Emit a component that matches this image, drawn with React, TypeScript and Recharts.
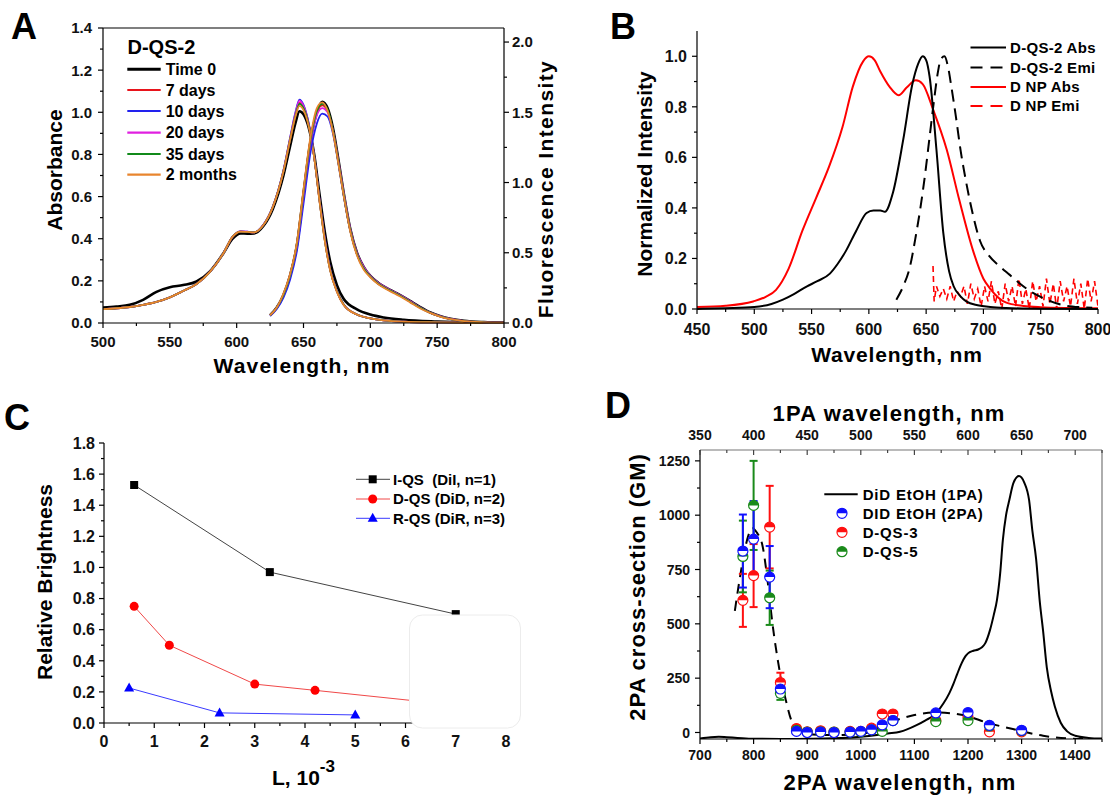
import React from "react";
import { LineChart, ComposedChart, Line, Scatter, ErrorBar, XAxis, YAxis, ReferenceLine } from "recharts";

const FONT = '"Liberation Sans", Arial, Helvetica, sans-serif';

// ---------- A: D-QS-2 stability ----------
const ABS_WL = [500, 510, 520, 530, 540, 550, 560, 570, 580, 590, 597, 603, 608, 613, 620, 627, 635, 640, 644, 647, 650, 654, 658, 662, 666, 670, 675, 680, 690, 700, 710, 725, 750, 775, 800];
const ABS_T0 = [0.073, 0.078, 0.086, 0.11, 0.148, 0.17, 0.18, 0.197, 0.245, 0.33, 0.4, 0.425, 0.424, 0.425, 0.46, 0.54, 0.7, 0.84, 0.95, 1.005, 0.99, 0.925, 0.8, 0.61, 0.43, 0.29, 0.18, 0.115, 0.065, 0.04, 0.026, 0.015, 0.007, 0.003, 0.002];
const ABS_7D = [0.066, 0.07, 0.076, 0.086, 0.1, 0.122, 0.152, 0.185, 0.243, 0.33, 0.41, 0.434, 0.432, 0.43, 0.465, 0.55, 0.72, 0.87, 0.99, 1.045, 1.025, 0.94, 0.79, 0.58, 0.39, 0.25, 0.15, 0.088, 0.04, 0.022, 0.012, 0.006, 0.003, 0.001, 0];
const ABS_10D = [0.066, 0.07, 0.076, 0.086, 0.1, 0.122, 0.152, 0.185, 0.243, 0.33, 0.41, 0.435, 0.433, 0.43, 0.466, 0.552, 0.725, 0.88, 1.0, 1.06, 1.035, 0.945, 0.79, 0.585, 0.4, 0.255, 0.152, 0.088, 0.04, 0.022, 0.012, 0.006, 0.003, 0.001, 0];
const ABS_20D = [0.066, 0.07, 0.076, 0.086, 0.1, 0.122, 0.152, 0.185, 0.243, 0.33, 0.41, 0.435, 0.433, 0.43, 0.466, 0.551, 0.723, 0.878, 0.995, 1.055, 1.03, 0.943, 0.79, 0.583, 0.395, 0.252, 0.15, 0.088, 0.04, 0.022, 0.012, 0.006, 0.003, 0.001, 0];
const ABS_35D = [0.066, 0.07, 0.076, 0.086, 0.1, 0.122, 0.152, 0.185, 0.243, 0.33, 0.41, 0.434, 0.432, 0.43, 0.465, 0.55, 0.72, 0.872, 0.985, 1.04, 1.02, 0.938, 0.788, 0.58, 0.39, 0.25, 0.15, 0.088, 0.04, 0.022, 0.012, 0.006, 0.003, 0.001, 0];
const ABS_2M = [0.066, 0.07, 0.076, 0.086, 0.1, 0.122, 0.152, 0.185, 0.243, 0.33, 0.41, 0.434, 0.432, 0.43, 0.465, 0.55, 0.72, 0.87, 0.98, 1.03, 1.01, 0.93, 0.785, 0.578, 0.388, 0.248, 0.148, 0.086, 0.04, 0.022, 0.012, 0.006, 0.003, 0.001, 0];

const EMI_WL = [625, 630, 635, 640, 645, 650, 655, 660, 664, 668, 672, 676, 680, 685, 690, 695, 700, 706, 712, 718, 724, 730, 737, 745, 752, 760, 770, 785, 800];
const EMI_T0 = [0.055, 0.11, 0.2, 0.34, 0.55, 0.92, 1.28, 1.5, 1.575, 1.53, 1.39, 1.17, 0.93, 0.67, 0.5, 0.4, 0.335, 0.285, 0.25, 0.22, 0.19, 0.155, 0.115, 0.075, 0.05, 0.03, 0.015, 0.006, 0.003];
const EMI_7D = [0.055, 0.11, 0.2, 0.34, 0.56, 0.93, 1.29, 1.5, 1.55, 1.51, 1.37, 1.15, 0.92, 0.66, 0.49, 0.39, 0.33, 0.28, 0.245, 0.215, 0.185, 0.15, 0.11, 0.072, 0.048, 0.028, 0.014, 0.005, 0.002];
const EMI_10D = [0.05, 0.1, 0.18, 0.31, 0.51, 0.85, 1.2, 1.42, 1.49, 1.47, 1.35, 1.14, 0.91, 0.66, 0.49, 0.39, 0.33, 0.28, 0.245, 0.215, 0.185, 0.15, 0.11, 0.072, 0.048, 0.028, 0.014, 0.005, 0.002];
const EMI_20D = [0.055, 0.11, 0.2, 0.34, 0.55, 0.91, 1.27, 1.48, 1.53, 1.5, 1.37, 1.16, 0.93, 0.67, 0.5, 0.4, 0.335, 0.285, 0.25, 0.22, 0.19, 0.155, 0.112, 0.073, 0.049, 0.029, 0.014, 0.005, 0.002];
const EMI_35D = [0.055, 0.11, 0.2, 0.34, 0.56, 0.93, 1.29, 1.51, 1.56, 1.52, 1.37, 1.15, 0.92, 0.66, 0.49, 0.39, 0.33, 0.28, 0.245, 0.215, 0.185, 0.15, 0.11, 0.072, 0.048, 0.028, 0.014, 0.005, 0.002];
const EMI_2M = [0.055, 0.11, 0.21, 0.35, 0.57, 0.95, 1.31, 1.53, 1.57, 1.51, 1.36, 1.14, 0.91, 0.65, 0.48, 0.38, 0.325, 0.275, 0.24, 0.21, 0.18, 0.145, 0.105, 0.07, 0.046, 0.027, 0.013, 0.005, 0.002];

const A_NAMES = ["Time 0", "7 days", "10 days", "20 days", "35 days", "2 months"];
const A_COLORS = ["#000000", "#e8141c", "#2222ee", "#e020e0", "#118a1a", "#e8852e"];
const A_X_TICKS = [500, 525, 550, 575, 600, 625, 650, 675, 700, 725, 750, 775, 800];
const A_Y_TICKS = [0, 0.1, 0.2, 0.3, 0.4, 0.5, 0.6, 0.7, 0.8, 0.9, 1.0, 1.1, 1.2, 1.3, 1.4];
const A_Y2_TICKS = [0, 0.25, 0.5, 0.75, 1.0, 1.25, 1.5, 1.75, 2.0];

// ---------- B: normalized spectra ----------
const QS_ABS_WL = [450, 475, 500, 515, 525, 535, 546, 555, 566, 573, 580, 589, 598, 604, 610, 614, 621, 630, 638, 643, 647, 650, 653, 659, 665, 670, 674, 680, 685, 695, 706, 720, 750, 800];
const QS_ABS = [0, 0.003, 0.008, 0.02, 0.037, 0.06, 0.09, 0.11, 0.14, 0.18, 0.23, 0.31, 0.38, 0.39, 0.39, 0.385, 0.46, 0.67, 0.89, 0.97, 1.0, 0.985, 0.92, 0.63, 0.3, 0.15, 0.09, 0.05, 0.03, 0.015, 0.008, 0.004, 0.001, 0];
const QS_EMI_WL = [624, 630, 636, 641, 645, 649, 653, 657, 660, 663, 666, 669, 672, 676, 680, 685, 691, 697, 705, 714, 723, 732, 741, 749, 760, 770, 785, 795];
const QS_EMI = [0.037, 0.09, 0.17, 0.29, 0.4, 0.53, 0.68, 0.83, 0.93, 0.99, 1.0, 0.96, 0.88, 0.76, 0.63, 0.5, 0.37, 0.27, 0.21, 0.17, 0.135, 0.1, 0.07, 0.05, 0.028, 0.015, 0.007, 0.005];
const NP_ABS_WL = [450, 475, 499, 510, 519, 530, 542, 554, 565, 577, 586, 595, 600, 605, 610, 618, 626, 633, 641, 647, 656, 668, 679, 691, 700, 706, 720, 735, 750, 775, 800];
const NP_ABS = [0.008, 0.013, 0.03, 0.048, 0.076, 0.16, 0.31, 0.44, 0.56, 0.72, 0.88, 0.98, 1.0, 0.985, 0.94, 0.88, 0.846, 0.876, 0.905, 0.89, 0.79, 0.63, 0.43, 0.23, 0.12, 0.08, 0.025, 0.012, 0.007, 0.004, 0.003];
const NP_EMI_WL = [656, 657, 659, 662, 665, 668, 671, 674, 677, 680, 683, 686, 689, 692, 695, 698, 701, 704, 707, 710, 713, 716, 719, 722, 725, 728, 731, 734, 737, 740, 743, 746, 749, 752, 755, 758, 761, 764, 767, 770, 773, 776, 779, 782, 785, 788, 791, 794, 797, 800];
const NP_EMI = [0.17, 0.03, 0.09, 0.05, 0.08, 0.04, 0.09, 0.03, 0.07, 0.05, 0.09, 0.02, 0.1, 0.04, 0.08, 0.01, 0.09, 0.03, 0.11, 0.02, 0.07, 0.0, 0.1, 0.03, 0.09, 0.01, 0.12, 0.02, 0.08, 0.0, 0.11, 0.03, 0.09, 0.01, 0.12, 0.02, 0.1, 0.0, 0.11, 0.03, 0.09, 0.01, 0.12, 0.02, 0.1, 0.0, 0.12, 0.03, 0.11, 0.01];
const B_X_TICKS = [450, 475, 500, 525, 550, 575, 600, 625, 650, 675, 700, 725, 750, 775, 800];
const B_Y_TICKS = [0, 0.1, 0.2, 0.3, 0.4, 0.5, 0.6, 0.7, 0.8, 0.9, 1.0];

// ---------- C: relative brightness ----------
const IQS_L = [0.6, 3.3, 7.0];
const IQS_B = [1.53, 0.97, 0.7];
const DQS_L = [0.6, 1.3, 3.0, 4.2, 7.0];
const DQS_B = [0.75, 0.5, 0.25, 0.21, 0.115];
const RQS_L = [0.5, 2.3, 5.0];
const RQS_B = [0.225, 0.065, 0.052];
const C_X_TICKS = [0, 0.5, 1, 1.5, 2, 2.5, 3, 3.5, 4, 4.5, 5, 5.5, 6, 6.5, 7, 7.5, 8];
const C_Y_TICKS = [0, 0.1, 0.2, 0.3, 0.4, 0.5, 0.6, 0.7, 0.8, 0.9, 1.0, 1.1, 1.2, 1.3, 1.4, 1.5, 1.6, 1.7, 1.8];

// ---------- D: 2PA cross-section ----------
// DiD EtOH one-photon absorption, on the 1PA (top) wavelength axis
const PA1_WL = [350, 360, 367.5, 375, 385, 400, 425, 450, 475, 500, 515, 525, 536.5, 552, 560, 570, 577, 582.5, 586.5, 590, 594, 597.5, 600, 605, 609.5, 613, 616, 620.5, 624, 627, 630, 632.5, 635.5, 638.5, 642.5, 647.5, 652.5, 657, 660, 663.5, 667, 670, 673.5, 677.5, 681, 686.5, 692.5, 700, 712.5, 725];
const PA1_GM = [-28, -22, -20, -22, -25, -29, -30, -29, -27, -20, -12, -5, 3, 34, 55, 87, 133, 180, 225, 270, 318, 350, 364, 376, 382, 392, 410, 471, 540, 609, 732, 885, 1000, 1069, 1150, 1180, 1150, 1069, 930, 800, 600, 470, 300, 190, 120, 45, 5, -15, -25, -28];
const GUIDE_WL = [765, 773, 782, 790, 798, 806, 817, 826, 835, 846, 860, 872, 885, 900, 940, 1000, 1040, 1070, 1100, 1140, 1190, 1240, 1290, 1340, 1390, 1420];
const GUIDE_GM = [560, 690, 820, 905, 940, 920, 855, 700, 505, 320, 150, 45, 5, -8, -12, -8, 30, 60, 80, 92, 80, 42, 12, -15, -28, -30];
const TPA_WL = [780, 800, 830, 850, 880, 900, 925, 950, 980, 1000, 1020, 1040, 1060, 1140, 1200, 1240, 1300];
const DID_GM = [835, 890, 715, 200, 5, 0, 2, 0, 2, 5, 12, 35, 55, 90, 92, 33, 10];
const DID_ERR = [168, 175, 143, 35, 0, 0, 0, 0, 0, 0, 0, 0, 0, 0, 0, 0, 0];
const QS3_GM = [608, 722, 945, 230, 18, 3, 8, 2, 5, 5, 20, 85, 85, 55, 70, 3, 3];
const QS3_ERR = [122, 145, 190, 45, 0, 0, 0, 0, 0, 0, 0, 0, 0, 0, 0, 0, 0];
const QS5_GM = [810, 1045, 620, 180, 10, 2, 3, 2, 2, 3, 12, 5, 55, 50, 55, 30, 8];
const QS5_ERR = [165, 205, 125, 30, 0, 0, 0, 0, 0, 0, 0, 0, 0, 0, 0, 0, 0];
const D_X_TICKS = [700, 750, 800, 850, 900, 950, 1000, 1050, 1100, 1150, 1200, 1250, 1300, 1350, 1400, 1450];
const D_TOP_TICKS = [350, 375, 400, 425, 450, 475, 500, 525, 550, 575, 600, 625, 650, 675, 700, 725];
const D_Y_TICKS = [0, 125, 250, 375, 500, 625, 750, 875, 1000, 1125, 1250];

const pts = (xs: number[], ys: number[]) => xs.map((x, i) => ({ x, y: ys[i] }));
const errPts = (xs: number[], ys: number[], es: number[]) => xs.map((x, i) => ({ x, y: ys[i], e: es[i] }));
const onStep = (step: number) => (v: number) => Math.abs(v / step - Math.round(v / step)) < 1e-6;

type Side = "bottom" | "top" | "left" | "right";
function tickFn(side: Side, isMajor: (v: number) => boolean, label: (v: number) => string, fontSize: number, offset: number) {
  return (p: any) => {
    const v = p.payload.value;
    const big = isMajor(v);
    const len = big ? 5 : 3;
    const { x, y } = p;
    const t = { fontFamily: FONT, fontSize, fontWeight: 700, fill: "#111" };
    let ln: any = null;
    let tx: any = null;
    if (side === "bottom") {
      ln = <line x1={x} x2={x} y1={y} y2={y + len} stroke="#000" strokeWidth={1.2} />;
      if (big) tx = <text x={x} y={y + offset} textAnchor="middle" {...t}>{label(v)}</text>;
    } else if (side === "top") {
      ln = <line x1={x} x2={x} y1={y} y2={y + len} stroke="#444" strokeWidth={1.2} />;
      if (big) tx = <text x={x} y={y - offset} textAnchor="middle" {...t}>{label(v)}</text>;
    } else if (side === "left") {
      ln = <line x1={x} x2={x - len} y1={y} y2={y} stroke="#000" strokeWidth={1.2} />;
      if (big) tx = <text x={x - offset} y={y} dy="0.36em" textAnchor="end" {...t}>{label(v)}</text>;
    } else {
      ln = <line x1={x} x2={x + len} y1={y} y2={y} stroke="#000" strokeWidth={1.2} />;
      if (big) tx = <text x={x + offset} y={y} dy="0.36em" textAnchor="start" {...t}>{label(v)}</text>;
    }
    return <g>{ln}{tx}</g>;
  };
}

const axisLine = { stroke: "#000", strokeWidth: 1.2 };
const f1 = (v: number) => v.toFixed(1);
const f0 = (v: number) => String(Math.round(v));

function PanelA() {
  const abs = [ABS_T0, ABS_7D, ABS_10D, ABS_20D, ABS_35D, ABS_2M];
  const emi = [EMI_T0, EMI_7D, EMI_10D, EMI_20D, EMI_35D, EMI_2M];
  return (
    <div style={{ position: "absolute", left: 0, top: 0 }}>
      <LineChart width={560} height={380} margin={{ top: 28, right: 0, bottom: 0, left: 0 }}>
        <XAxis type="number" dataKey="x" domain={[500, 800]} ticks={A_X_TICKS} interval={0} height={57} tickSize={0} tickMargin={0} tickLine={false} axisLine={axisLine} tick={tickFn("bottom", onStep(50), f0, 15, 24)} allowDataOverflow />
        <YAxis yAxisId="abs" type="number" domain={[0, 1.4]} ticks={A_Y_TICKS} interval={0} width={103} tickSize={0} tickMargin={0} tickLine={false} axisLine={axisLine} tick={tickFn("left", onStep(0.2), f1, 15, 11)} />
        <YAxis yAxisId="fl" orientation="right" type="number" domain={[0, 2.1]} ticks={A_Y2_TICKS} interval={0} width={56} tickSize={0} tickMargin={0} tickLine={false} axisLine={axisLine} tick={tickFn("right", onStep(0.5), f1, 15, 8)} />
        <ReferenceLine yAxisId="abs" y={1.4} stroke="#000" strokeWidth={1.2} />
        {abs.map((ys, i) => (
          <Line key={"abs" + i} yAxisId="abs" data={pts(ABS_WL, ys)} dataKey="y" type="monotone" stroke={A_COLORS[i]} strokeWidth={i === 0 ? 2.6 : 1.8} dot={false} isAnimationActive={false} />
        ))}
        {emi.map((ys, i) => (
          <Line key={"emi" + i} yAxisId="fl" data={pts(EMI_WL, ys)} dataKey="y" type="monotone" stroke={A_COLORS[i]} strokeWidth={i === 0 ? 2.6 : 1.8} dot={false} isAnimationActive={false} />
        ))}
      </LineChart>
    </div>
  );
}

function PanelB() {
  return (
    <div style={{ position: "absolute", left: 590, top: 0 }}>
      <LineChart width={520} height={370} margin={{ top: 31, right: 12, bottom: 0, left: 0 }}>
        <XAxis type="number" dataKey="x" domain={[450, 800]} ticks={B_X_TICKS} interval={0} height={61} tickSize={0} tickMargin={0} tickLine={false} axisLine={axisLine} tick={tickFn("bottom", onStep(50), f0, 16, 26)} allowDataOverflow />
        <YAxis type="number" domain={[0, 1.1]} ticks={B_Y_TICKS} interval={0} width={107} tickSize={0} tickMargin={0} tickLine={false} axisLine={axisLine} tick={tickFn("left", onStep(0.2), f1, 16, 10)} />
        <Line data={pts(NP_ABS_WL, NP_ABS)} dataKey="y" type="monotone" stroke="#ff0000" strokeWidth={2} dot={false} isAnimationActive={false} />
        <Line data={pts(NP_EMI_WL, NP_EMI)} dataKey="y" type="linear" stroke="#ff0000" strokeWidth={1.6} strokeDasharray="6 4" dot={false} isAnimationActive={false} />
        <Line data={pts(QS_ABS_WL, QS_ABS)} dataKey="y" type="monotone" stroke="#000" strokeWidth={2} dot={false} isAnimationActive={false} />
        <Line data={pts(QS_EMI_WL, QS_EMI)} dataKey="y" type="monotone" stroke="#000" strokeWidth={2} strokeDasharray="12 7" dot={false} isAnimationActive={false} />
      </LineChart>
    </div>
  );
}

const squareDot = (color: string) => (p: any) => <rect key={"s" + p.index} x={p.cx - 4} y={p.cy - 4} width={8} height={8} fill={color} />;
const circleDot = (color: string) => (p: any) => <circle key={"c" + p.index} cx={p.cx} cy={p.cy} r={4.5} fill={color} />;
const triDot = (color: string) => (p: any) => <path key={"t" + p.index} d={`M${p.cx},${p.cy - 5.5}L${p.cx + 5},${p.cy + 3.5}L${p.cx - 5},${p.cy + 3.5}Z`} fill={color} />;

function PanelC() {
  return (
    <div style={{ position: "absolute", left: 0, top: 400 }}>
      <LineChart width={520} height={396} margin={{ top: 43, right: 14, bottom: 0, left: 0 }}>
        <XAxis type="number" dataKey="x" domain={[0, 8]} ticks={C_X_TICKS} interval={0} height={73} tickSize={0} tickMargin={0} tickLine={false} axisLine={axisLine} tick={tickFn("bottom", onStep(1), f0, 16, 24)} allowDataOverflow />
        <YAxis type="number" domain={[0, 1.8]} ticks={C_Y_TICKS} interval={0} width={104} tickSize={0} tickMargin={0} tickLine={false} axisLine={axisLine} tick={tickFn("left", onStep(0.2), f1, 16, 9)} />
        <Line data={pts(IQS_L, IQS_B)} dataKey="y" type="linear" stroke="#444" strokeWidth={1} dot={squareDot("#000")} isAnimationActive={false} />
        <Line data={pts(DQS_L, DQS_B)} dataKey="y" type="linear" stroke="#f04848" strokeWidth={1} dot={circleDot("#ff0000")} isAnimationActive={false} />
        <Line data={pts(RQS_L, RQS_B)} dataKey="y" type="linear" stroke="#3a3aff" strokeWidth={1} dot={triDot("#0000ff")} isAnimationActive={false} />
      </LineChart>
    </div>
  );
}

function HalfDot({ cx, cy, color }: { cx: number; cy: number; color: string }) {
  const r = 5;
  return (
    <g>
      <circle cx={cx} cy={cy} r={r} fill="#fff" stroke={color} strokeWidth={1.2} />
      <path d={`M${cx - r},${cy} A${r},${r} 0 0 1 ${cx + r},${cy} Z`} fill={color} />
    </g>
  );
}

function PanelD() {
  const series = [
    { name: "D-QS-3", color: "#ff1010", data: errPts(TPA_WL, QS3_GM, QS3_ERR) },
    { name: "D-QS-5", color: "#1a8a1a", data: errPts(TPA_WL, QS5_GM, QS5_ERR) },
    { name: "DID EtOH (2PA)", color: "#1010ff", data: errPts(TPA_WL, DID_GM, DID_ERR) },
  ];
  return (
    <div style={{ position: "absolute", left: 596, top: 390 }}>
      <ComposedChart width={520} height={406} margin={{ top: 0, right: 14, bottom: 0, left: 0 }}>
        <XAxis type="number" dataKey="x" domain={[700, 1450]} ticks={D_X_TICKS} interval={0} height={57} tickSize={0} tickMargin={0} tickLine={false} axisLine={axisLine} tick={tickFn("bottom", onStep(100), f0, 14, 21)} allowDataOverflow />
        <XAxis xAxisId="top" orientation="top" type="number" dataKey="x" domain={[350, 725]} ticks={D_TOP_TICKS} interval={0} height={60} tickSize={0} tickMargin={0} tickLine={false} axisLine={{ stroke: "#777", strokeWidth: 1.2 }} tick={tickFn("top", onStep(50), f0, 14, 10)} allowDataOverflow />
        <YAxis type="number" dataKey="y" domain={[-30, 1300]} ticks={D_Y_TICKS} interval={0} width={104} tickSize={0} tickMargin={0} tickLine={false} axisLine={axisLine} tick={tickFn("left", onStep(250), f0, 14, 10)} allowDataOverflow />
        <ReferenceLine x={1450} stroke="#777" strokeWidth={1.2} />
        <Line xAxisId="top" data={pts(PA1_WL, PA1_GM)} dataKey="y" type="monotone" stroke="#000" strokeWidth={2} dot={false} isAnimationActive={false} />
        <Line data={pts(GUIDE_WL, GUIDE_GM)} dataKey="y" type="monotone" stroke="#000" strokeWidth={2} strokeDasharray="10 7" dot={false} isAnimationActive={false} />
        {series.map((s) => (
          <Scatter key={s.name} name={s.name} data={s.data} fill={s.color} isAnimationActive={false} shape={(p: any) => <HalfDot cx={p.cx} cy={p.cy} color={s.color} />}>
            <ErrorBar dataKey="e" direction="y" width={4} strokeWidth={2} stroke={s.color} />
          </Scatter>
        ))}
      </ComposedChart>
    </div>
  );
}

function Overlay() {
  const t = (size: number, extra: any = {}) => ({ fontFamily: FONT, fontSize: size, fontWeight: 700, fill: "#000", ...extra });
  const vtext = (x: number, y: number, s: string, size: number, ls = 0) => (
    <text transform={`translate(${x},${y}) rotate(-90)`} textAnchor="middle" {...t(size, { letterSpacing: ls })}>{s}</text>
  );
  const aRows = [69.3, 90, 111, 132.7, 154, 174.7];
  const bRows = [47.5, 67.5, 87, 106];
  const cRows = [479.3, 499, 518.3];
  const dRows = [494.3, 513.3, 532.3, 551.7];
  return (
    <svg width={1116} height={796} style={{ position: "absolute", left: 0, top: 0, pointerEvents: "none" }}>
      {/* panel letters */}
      <text x={11} y={39} {...t(36)}>A</text>
      <text x={610} y={39} {...t(36)}>B</text>
      <text x={4} y={430} {...t(36)}>C</text>
      <text x={605} y={418} {...t(36)}>D</text>

      {/* A */}
      <text x={302} y={373} textAnchor="middle" {...t(21, { letterSpacing: 1.2 })}>Wavelength, nm</text>
      {vtext(61.5, 170, "Absorbance", 21)}
      {vtext(553, 189, "Fluorescence Intensity", 21, 1.4)}
      <text x={127.5} y={54} {...t(20)}>D-QS-2</text>
      {A_NAMES.map((n, i) => (
        <g key={n}>
          <line x1={127.3} x2={160.7} y1={aRows[i]} y2={aRows[i]} stroke={A_COLORS[i]} strokeWidth={i === 0 ? 3 : 2.2} />
          <text x={165.7} y={aRows[i] + 5.7} {...t(16)}>{n}</text>
        </g>
      ))}

      {/* B */}
      <text x={897} y={361.5} textAnchor="middle" {...t(21, { letterSpacing: 0.8 })}>Wavelength, nm</text>
      {vtext(652, 174, "Normalized Intensity", 21)}
      {[
        { n: "D-QS-2 Abs", c: "#000", d: undefined },
        { n: "D-QS-2 Emi", c: "#000", d: "12 8" },
        { n: "D NP Abs", c: "#ff0000", d: undefined },
        { n: "D NP Emi", c: "#ff0000", d: "12 8" },
      ].map((r, i) => (
        <g key={r.n}>
          <line x1={970.5} x2={1006} y1={bRows[i]} y2={bRows[i]} stroke={r.c} strokeWidth={1.8} strokeDasharray={r.d} />
          <text x={1010} y={bRows[i] + 5.4} {...t(15, { letterSpacing: 0.3 })}>{r.n}</text>
        </g>
      ))}

      {/* C */}
      {vtext(52, 582, "Relative Brightness", 21)}
      <text x={272} y={785} {...t(21)}>
        L, 10<tspan dy={-13} fontSize={17}>-3</tspan>
      </text>
      <rect x={409.5} y={615} width={111} height={113} rx={13} fill="#fff" stroke="#ececec" />
      {[
        { n: "I-QS  (DiI, n=1)", c: "#444", m: <rect x={368.7} y={cRows[0] - 4} width={8} height={8} fill="#000" /> },
        { n: "D-QS (DiD, n=2)", c: "#f04848", m: <circle cx={372.7} cy={cRows[1]} r={4.5} fill="#ff0000" /> },
        { n: "R-QS (DiR, n=3)", c: "#3a3aff", m: <path d={`M372.7,${cRows[2] - 5.5}L377.7,${cRows[2] + 3.5}L367.7,${cRows[2] + 3.5}Z`} fill="#0000ff" /> },
      ].map((r, i) => (
        <g key={r.n}>
          <line x1={356} x2={390} y1={cRows[i]} y2={cRows[i]} stroke={r.c} strokeWidth={1} />
          {r.m}
          <text x={393} y={cRows[i] + 5.4} {...t(15)} style={{ whiteSpace: "pre" }}>{r.n}</text>
        </g>
      ))}

      {/* D */}
      <text x={889} y={420.5} textAnchor="middle" {...t(22, { letterSpacing: 1.2 })}>1PA wavelength, nm</text>
      <text x={900} y={790} textAnchor="middle" {...t(22, { letterSpacing: 1.2 })}>2PA wavelength, nm</text>
      {vtext(645, 587, "2PA cross-section (GM)", 22, 1)}
      <line x1={824.3} x2={857.7} y1={dRows[0]} y2={dRows[0]} stroke="#000" strokeWidth={2} />
      <text x={862.7} y={dRows[0] + 5.6} {...t(15, { letterSpacing: 0.8 })}>DiD EtOH (1PA)</text>
      {[
        { n: "DID EtOH (2PA)", c: "#1010ff" },
        { n: "D-QS-3", c: "#ff1010" },
        { n: "D-QS-5", c: "#1a8a1a" },
      ].map((r, i) => (
        <g key={r.n}>
          <HalfDot cx={842} cy={dRows[i + 1]} color={r.c} />
          <text x={862.7} y={dRows[i + 1] + 5.6} {...t(15, { letterSpacing: 0.8 })}>{r.n}</text>
        </g>
      ))}
    </svg>
  );
}

export default function App() {
  return (
    <div style={{ position: "absolute", left: 0, top: 0, width: 1116, height: 796, background: "#fff" }}>
      <PanelA />
      <PanelB />
      <PanelC />
      <PanelD />
      <Overlay />
    </div>
  );
}
